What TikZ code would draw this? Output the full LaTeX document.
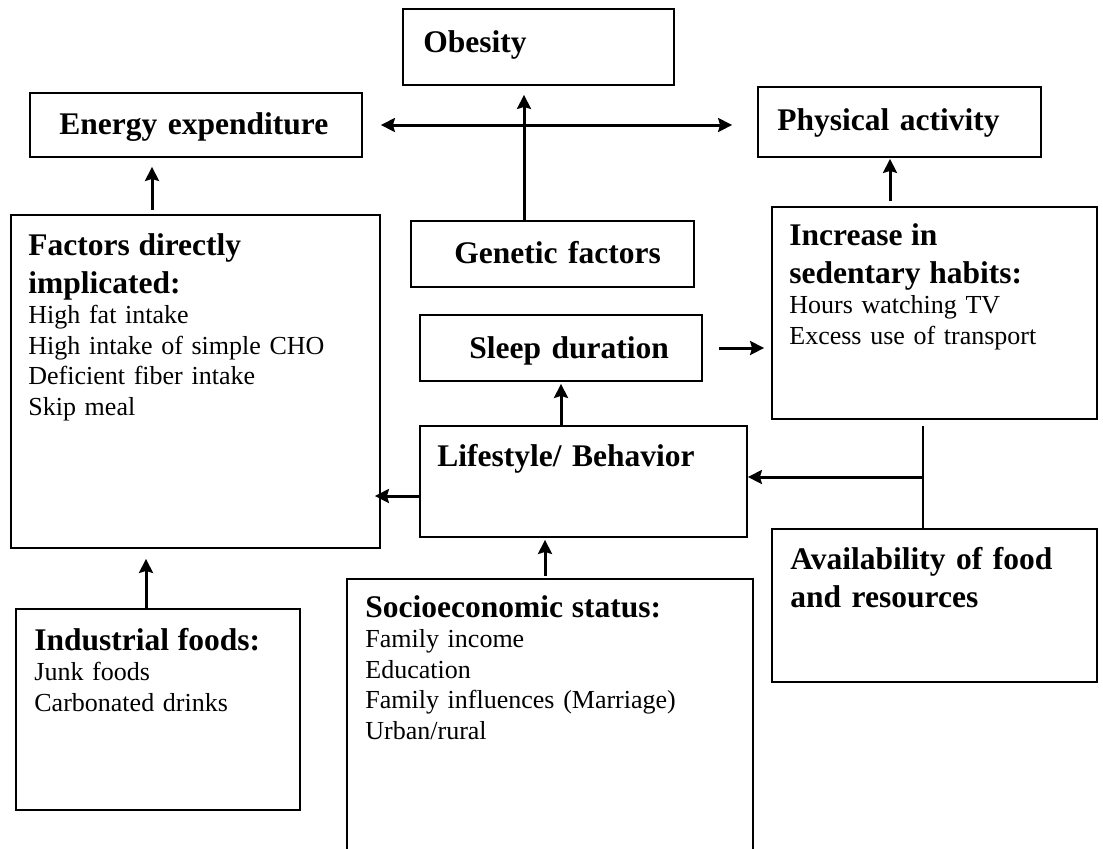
\documentclass[tikz,border=0pt]{standalone}
\usepackage{fontspec}
\setmainfont{Liberation Serif}
\usetikzlibrary{arrows.meta,positioning}
\newcommand\headfont{\fontsize{15.75}{19}\selectfont\bfseries}
\newcommand\bodyfont{\fontsize{13}{15.25}\selectfont}

\begin{document}
\begin{tikzpicture}[x=0.5pt,y=-0.5pt,>={Stealth[length=7pt,width=7pt,inset=1pt]},box/.style={draw=black,line width=.9pt,inner sep=0pt},txt/.style={anchor=base west,inner sep=0pt,align=left,text width=200pt,font=\bodyfont},hd/.style={txt,font=\headfont},arr/.style={->,line width=1.5pt}]
\useasboundingbox (0,0) rectangle (1103,848);
\clip (0,0) rectangle (1103,848);

% boxes
\node[box,minimum width=135.5pt,minimum height=38pt] (obe) at (538.5,47) {};
\node[box,minimum width=166pt,minimum height=32pt] (ene) at (196,125) {};
\node[box,minimum width=141.5pt,minimum height=35pt] (phy) at (899.5,122) {};
\node[box,minimum width=141.5pt,minimum height=33pt] (gen) at (552.5,254) {};
\node[box,minimum width=184.5pt,minimum height=166.5pt] (fac) at (195.5,381.5) {};
\node[box,minimum width=162.5pt,minimum height=106pt] (sed) at (934.5,313) {};
\node[box,minimum width=141pt,minimum height=33pt] (sle) at (561,348) {};
\node[box,minimum width=163.5pt,minimum height=55.5pt] (lif) at (583.5,481.5) {};
\node[box,minimum width=162.5pt,minimum height=76.5pt] (ava) at (934.5,605.5) {};
\node[box,minimum width=142pt,minimum height=100.5pt] (ind) at (158,709.5) {};
\node[box,minimum width=203pt,minimum height=160.5pt] (soc) at (550,739.5) {};

% texts
\node[hd] (obe-t) at (423,52) {Obesity};
\node[hd] (ene-t) at (59,134) {Energy expenditure};
\node[hd] (phy-t) at (777,130) {Physical activity};
\node[hd] (gen-t) at (454,263) {Genetic factors};
\node[txt] (fac-t) at (28,255) {{\headfont Factors directly\\implicated:\par}High fat intake\\High intake of simple CHO\\Deficient fiber intake\\Skip meal};
\node[txt] (sed-t) at (789,245) {{\headfont Increase in\\sedentary habits:\par}Hours watching TV\\Excess use of transport};
\node[hd] (sle-t) at (469,358) {Sleep duration};
\node[hd] (lif-t) at (437,466) {Lifestyle/ Behavior};
\node[hd] (ava-t) at (790,569) {Availability of food\\and resources};
\node[txt] (ind-t) at (34,650) {{\headfont Industrial foods:\par}Junk foods\\Carbonated drinks};
\node[txt] (soc-t) at (365,617) {{\headfont Socioeconomic status:\par}Family income\\Education\\Family influences (Marriage)\\Urban/rural};

% connectors
\draw[arr,<->,shorten <=9pt,shorten >=12.5pt] (ene.east) -- (ene.east -| phy.west);
\coordinate (g0) at ([xshift=-14.25pt]gen.north);
\draw[arr,shorten >=4.5pt] (g0) -- (g0 |- obe.south);
\coordinate (f0) at ([xshift=-21.75pt]fac.north);
\draw[arr,shorten <=2pt,shorten >=4.5pt] (f0) -- (f0 |- ene.south);
\coordinate (s0) at ([xshift=-22.25pt]sed.north);
\draw[arr,shorten <=2.5pt,shorten >=.5pt] (s0) -- (s0 |- phy.south);
\draw[arr,shorten <=8pt,shorten >=3.5pt] (sle.east) -- (sle.east -| sed.west);
\draw[arr,shorten >=1pt] (lif.north -| sle.south) -- (sle.south);
\coordinate (l0) at ([yshift=-7.25pt]lif.west);
\draw[arr,shorten >=-3pt] (l0) -- (l0 -| fac.east);
\coordinate (j0) at ([xshift=-5.75pt]sed.south);
\draw[line width=1.1pt,shorten <=3pt] (j0) -- (j0 |- ava.north);
\coordinate (jn) at (923,477);
\draw[arr] (jn) -- (jn -| lif.east);
\coordinate (i0) at ([xshift=-6pt]ind.north);
\draw[arr,shorten >=5pt] (i0) -- (i0 |- fac.south);
\coordinate (c0) at ([xshift=-2.5pt]soc.north);
\draw[arr,shorten <=1pt,shorten >=1pt] (c0) -- (c0 |- lif.south);
\end{tikzpicture}
\end{document}
